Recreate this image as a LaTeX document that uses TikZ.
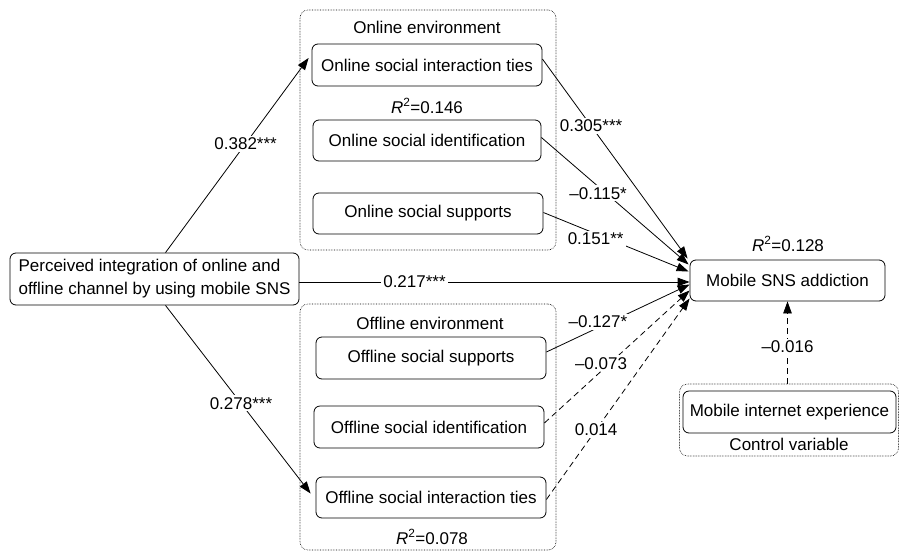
\documentclass[tikz,border=0pt]{standalone}
\usepackage{fontspec}
\setmainfont{Liberation Sans}
\usetikzlibrary{arrows.meta,calc}
\begin{document}
\begin{tikzpicture}[x=1pt,y=-1pt,
  font=\fontsize{17}{21}\selectfont,
  varbox/.style={draw, rounded corners=6pt, line width=0.8pt, inner sep=0pt},
  groupbox/.style={draw, densely dotted, rounded corners=8pt, line width=0.6pt, inner sep=0pt},
  conn/.style={-{Triangle[length=12pt,width=8.5pt]}, line width=0.8pt},
  dconn/.style={conn, dash pattern=on 6pt off 4pt},
  coef/.style={fill=white, inner sep=2pt},
  plain/.style={inner sep=0pt}
]
\useasboundingbox (0,0) rectangle (900,552);

% group containers
\node[groupbox, minimum width=256pt, minimum height=240pt] (onenv) at (428,130) {};
\node[groupbox, minimum width=256pt, minimum height=246pt] (offenv) at (428,427) {};
\node[groupbox, minimum width=219pt, minimum height=72pt] (ctrl) at (789,420) {};

\node[plain] (onlab) at (427,27) {Online environment};
\node[plain] (offlab) at (430,323) {Offline environment};
\node[plain] (ctrllab) at (789,444) {Control variable};

% variables
\node[varbox, minimum width=289pt, minimum height=52pt, align=left,
      font=\fontsize{17}{23}\selectfont] (perc) at (154.5,279)
  {Perceived integration of online and\\offline channel by using mobile SNS};

\node[varbox, minimum width=230pt, minimum height=42pt] (oit) at (427,65) {Online social interaction ties};
\node[varbox, minimum width=228pt, minimum height=41pt] (oid) at (427,140.5) {Online social identification};
\node[varbox, minimum width=230pt, minimum height=41pt] (osu) at (428,213.5) {Online social supports};

\node[varbox, minimum width=230pt, minimum height=42pt] (fsu) at (431,358) {Offline social supports};
\node[varbox, minimum width=230pt, minimum height=42pt] (fid) at (429,427) {Offline social identification};
\node[varbox, minimum width=230pt, minimum height=41pt] (fit) at (431,497.5) {Offline social interaction ties};

\node[varbox, minimum width=195pt, minimum height=41pt] (mob) at (787.5,280.5) {Mobile SNS addiction};
\node[varbox, minimum width=213pt, minimum height=42pt] (mie) at (789.5,412) {Mobile internet experience};

% R squared
\node[plain] (r1) at (427,106) {\textit{R}\textsuperscript{2}=0.146};
\node[plain] (r2) at (432,537) {\textit{R}\textsuperscript{2}=0.078};
\node[plain] (r3) at (788,244) {\textit{R}\textsuperscript{2}=0.128};

% paths from predictor
\draw[conn] ($(perc.north)+(11,0)$) -- node[coef, pos=0.56] {0.382***} ($(oit.west)+(-3,-7)$);
\draw[conn] ($(perc.south)+(11,0)$) -- node[coef, pos=0.52] {0.278***} ($(fit.west)+(-5,-4)$);
\draw[conn] ($(perc.east)+(0,3)$) -- node[coef, pos=0.295] {0.217***} ($(mob.west)+(0,1.5)$);

% online paths
\draw[conn] ($(oit.east)+(0,-6)$) -- node[coef, pos=0.335] {0.305***} ($(mob.west)+(-2,-22)$);
\draw[conn] ($(oid.east)+(0,-3)$) -- node[coef, pos=0.44, xshift=-8pt] {–0.115*} ($(mob.west)+(-1,-16)$);
\draw[conn] ($(osu.east)+(0,-1)$) -- node[coef, pos=0.36, yshift=-5pt] {0.151**} ($(mob.west)+(-1,-9)$);

% offline paths
\draw[conn] ($(fsu.east)+(0,-6)$) -- node[coef, pos=0.36, yshift=6pt] {–0.127*} ($(mob.west)+(0,4)$);
\draw[dconn] ($(fid.east)+(0,-4)$) -- node[coef, pos=0.39, yshift=8pt] {–0.073} ($(mob.west)+(0,10)$);
\draw[dconn] ($(fit.east)+(0,2)$) -- node[coef, pos=0.347] {0.014} ($(mob.west)+(0,18)$);

% control
\draw[dconn] (ctrl.north -| mob.south) -- node[coef, pos=0.45] {–0.016} (mob.south);
\end{tikzpicture}
\end{document}
